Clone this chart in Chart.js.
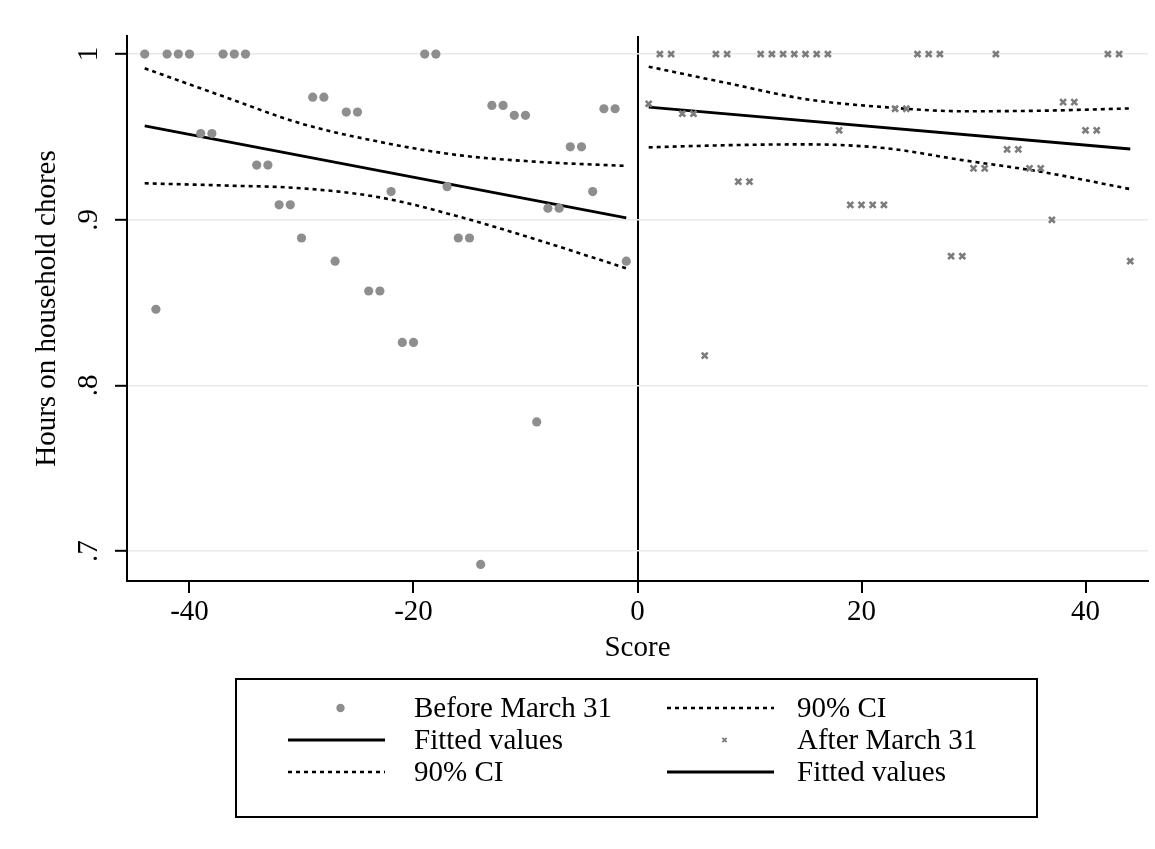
<!DOCTYPE html>
<html>
<head>
<meta charset="utf-8">
<title>Hours on household chores by score</title>
<script src="https://cdn.jsdelivr.net/npm/chart.js@4/dist/chart.umd.min.js"></script>
<style>
  html, body { margin: 0; padding: 0; background: #fff; }
</style>
</head>
<body>
<canvas id="rdChart" width="1155" height="849"></canvas>
<script>
/* -------- DATA -------- */
let scoreBefore = [-44, -43, -42, -41, -40, -39, -38, -37, -36, -35, -34, -33, -32, -31, -30,
    -29, -28, -27, -26, -25, -24, -23, -22, -21, -20, -19, -18, -17, -16, -15, -14, -13,
    -12, -11, -10, -9, -8, -7, -6, -5, -4, -3, -2, -1];
let choresBefore = [1, .846, 1, 1, 1, .952, .952, 1, 1, 1, .933, .933, .909, .909, .889,
    .974, .974, .875, .965, .965, .857, .857, .917, .826, .826, 1, 1, .920, .889, .889, .692, .969,
    .969, .963, .963, .778, .907, .907, .944, .944, .917, .967, .967, .875];

let scoreAfter = [1, 2, 3, 4, 5, 6, 7, 8, 9, 10, 11, 12, 13, 14, 15, 16, 17, 18, 19, 20, 21, 22,
    23, 24, 25, 26, 27, 28, 29, 30, 31, 32, 33, 34, 35, 36, 37, 38, 39, 40, 41, 42, 43, 44];
let choresAfter = [.970, 1, 1, .964, .964, .818, 1, 1, .923, .923, 1, 1, 1, 1, 1, 1, 1, .954,
    .909, .909, .909, .909, .967, .967, 1, 1, 1, .878, .878, .931, .931, 1, .9425, .9425, .931, .931,
    .900, .971, .971, .954, .954, 1, 1, .875];

// fitted lines and 90% confidence bands
let fitBeforeX = [-44, -1];
let fitBeforeY = [.9566, .9012];
let ciBeforeX = [-44, -37, -30, -23, -16, -9, -1];
let ciBeforeUpper = [.9914, .9745, .958, .947, .939, .935, .9325];
let ciBeforeLower = [.922, .9207, .919, .9135, .902, .888, .8707];

let fitAfterX = [1, 44];
let fitAfterY = [.968, .9427];
let ciAfterX = [1, 8, 15, 22, 29, 36, 44];
let ciAfterUpper = [.9924, .9825, .9728, .968, .9655, .9658, .9672];
let ciAfterLower = [.9437, .945, .9455, .9433, .936, .929, .9185];

let yTicks = [.7, .8, .9, 1];
let xTicks = [-40, -20, 0, 20, 40];

/* -------- HELPERS -------- */
const FONT = '"Liberation Serif", "Times New Roman", serif';
const pts = (xs, ys) => xs.map((x, i) => ({ x: x, y: ys[i] }));
const yLabel = v => v === 1 ? "1" : v.toFixed(1).replace(/^0/, "");

const ciStyle = {
    showLine: true, borderColor: "#000", borderWidth: 2.6, borderDash: [4, 4],
    pointRadius: 0, fill: false, cubicInterpolationMode: "monotone"
};
const fitStyle = {
    showLine: true, borderColor: "#000", borderWidth: 2.8, pointRadius: 0, fill: false
};

/* -------- PLUGINS -------- */
// y tick labels, rotated the Stata way
const yTickLabels = {
    id: "yTickLabels",
    afterDraw(chart) {
        const ctx = chart.ctx, y = chart.scales.y;
        ctx.save();
        ctx.fillStyle = "#000";
        ctx.font = "29px " + FONT;
        ctx.textAlign = "center";
        ctx.textBaseline = "middle";
        yTicks.forEach(v => {
            ctx.save();
            ctx.translate(89, y.getPixelForValue(v));
            ctx.rotate(-Math.PI / 2);
            ctx.fillText(yLabel(v), 0, 0);
            ctx.restore();
        });
        ctx.restore();
    }
};

// boxed two-column legend under the plot
const legendRows = [[0, 1], [3, 4], [6, 7]];
const boxLegend = {
    id: "boxLegend",
    afterDraw(chart) {
        const ctx = chart.ctx;
        const sets = chart.data.datasets;
        const cols = [{ k0: 288, k1: 385, tx: 414 }, { k0: 667, k1: 774, tx: 797 }];
        const rowY = [708, 740, 772];
        ctx.save();
        ctx.strokeStyle = "#000";
        ctx.lineWidth = 2;
        ctx.setLineDash([]);
        ctx.strokeRect(236, 679, 801, 138);
        ctx.font = "29px " + FONT;
        ctx.textBaseline = "middle";
        ctx.textAlign = "left";
        legendRows.forEach((row, r) => {
            row.forEach((di, c) => {
                const ds = sets[di], col = cols[c], yy = rowY[r];
                if (ds.showLine) {
                    ctx.beginPath();
                    ctx.setLineDash(ds.borderDash || []);
                    ctx.lineWidth = ds.borderWidth;
                    ctx.strokeStyle = ds.borderColor;
                    ctx.moveTo(col.k0, yy);
                    ctx.lineTo(col.k1, yy);
                    ctx.stroke();
                    ctx.setLineDash([]);
                } else {
                    ctx.fillStyle = ds.backgroundColor;
                    ctx.strokeStyle = ds.borderColor;
                    ctx.lineWidth = ds.pointStyle === "crossRot" ? 1.8 : 0;
                    Chart.helpers.drawPoint(ctx, {
                        pointStyle: ds.pointStyle, radius: ds.pointStyle === "crossRot" ? 3 : 3.2,
                        borderWidth: ctx.lineWidth, rotation: 0
                    }, (col.k0 + col.k1) / 2 + 4, yy);
                }
                ctx.fillStyle = "#000";
                ctx.fillText(ds.label, col.tx, yy + 1);
            });
        });
        ctx.restore();
    }
};

/* -------- CHART -------- */
new Chart(document.getElementById("rdChart"), {
    type: "scatter",
    data: {
        datasets: [
            {
                label: "Before March 31", data: pts(scoreBefore, choresBefore),
                pointStyle: "circle", pointRadius: 4.6, backgroundColor: "#8e8e8e",
                borderColor: "#8e8e8e", pointBorderWidth: 0, showLine: false
            },
            Object.assign({ label: "90% CI", data: pts(ciBeforeX, ciBeforeUpper) }, ciStyle),
            Object.assign({ label: "90% CI", data: pts(ciBeforeX, ciBeforeLower) }, ciStyle),
            Object.assign({ label: "Fitted values", data: pts(fitBeforeX, fitBeforeY) }, fitStyle),
            {
                label: "After March 31", data: pts(scoreAfter, choresAfter),
                pointStyle: "crossRot", pointRadius: 4.2, backgroundColor: "#7c7c7c",
                borderColor: "#7c7c7c", pointBorderWidth: 2.6, showLine: false
            },
            Object.assign({ label: "90% CI", data: pts(ciAfterX, ciAfterUpper) }, ciStyle),
            Object.assign({ label: "90% CI", data: pts(ciAfterX, ciAfterLower) }, ciStyle),
            Object.assign({ label: "Fitted values", data: pts(fitAfterX, fitAfterY) }, fitStyle)
        ]
    },
    options: {
        responsive: false,
        animation: false,
        layout: { padding: { left: 0, top: 36, right: 7, bottom: 183.6 } },
        plugins: { legend: { display: false }, tooltip: { enabled: false } },
        scales: {
            x: {
                type: "linear", min: -45.58, max: 45.58,
                afterBuildTicks: s => { s.ticks = xTicks.map(v => ({ value: v })); },
                afterFit: s => { s.height = 84.4; },
                ticks: {
                    color: "#000", padding: 2, includeBounds: false,
                    font: { family: FONT, size: 29 }
                },
                grid: {
                    color: c => c.tick && c.tick.value === 0 ? "#000" : "rgba(0,0,0,0)",
                    lineWidth: 2, tickColor: "#000", tickWidth: 2, tickLength: 12
                },
                border: { display: true, color: "#000", width: 2 },
                title: {
                    display: true, text: "Score", color: "#000",
                    font: { family: FONT, size: 29 }, padding: 0
                }
            },
            y: {
                type: "linear", min: 0.682, max: 1.0109,
                afterBuildTicks: s => { s.ticks = yTicks.map(v => ({ value: v })); },
                afterFit: s => { s.width = 127; },
                ticks: { display: false },
                grid: {
                    color: "#e8e8e8", lineWidth: 1.6,
                    tickColor: "#000", tickWidth: 2, tickLength: 12
                },
                border: { display: true, color: "#000", width: 2 },
                title: {
                    display: true, text: "Hours on household chores", color: "#000",
                    font: { family: FONT, size: 29 }, padding: { top: 29.6, bottom: 0 }
                }
            }
        }
    },
    plugins: [yTickLabels, boxLegend]
});
</script>
</body>
</html>
